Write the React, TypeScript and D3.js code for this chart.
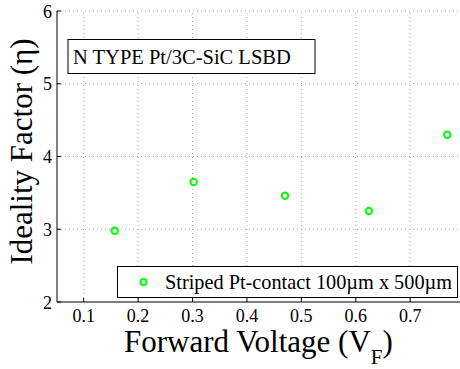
import React from "react";
import * as d3 from "d3";

const voltages = [0.157, 0.302, 0.470, 0.624, 0.768];
const ideality = [2.98, 3.65, 3.46, 3.25, 4.30];
const xTicks = [0.1, 0.2, 0.3, 0.4, 0.5, 0.6, 0.7];
const yTicks = [2, 3, 4, 5, 6];
const titleText = "N TYPE Pt/3C-SiC LSBD";
const legendText = "Striped Pt-contact 100\u00b5m x 500\u00b5m";

const W = 460, H = 369;
const FONT = "Liberation Serif";

export default function App() {
  const x = d3.scaleLinear().domain([0.1, 0.7]).range([83.7, 410.2]);
  const y = d3.scaleLinear().domain([2, 6]).range([302, 11]);
  const x0 = 57, yB = 302, yT = 11;
  const ts = { fontFamily: FONT };
  return (
    <svg width={W} height={H} style={{ position: "absolute", left: 0, top: 0, fontFamily: FONT }}>
      <rect width={W} height={H} fill="#fff" />
      {xTicks.map((t) => (
        <line key={"gx" + t} x1={x(t)} x2={x(t)} y1={yB} y2={yT} stroke="#aaa" strokeWidth={1} strokeDasharray="1,3" />
      ))}
      {yTicks.filter((t) => t > 2).map((t) => (
        <line key={"gy" + t} x1={x0} x2={W} y1={y(t)} y2={y(t)} stroke="#aaa" strokeWidth={1} strokeDasharray="1,3" />
      ))}
      <line x1={x0} x2={x0} y1={yT} y2={yB} stroke="#000" strokeWidth={1} />
      <line x1={x0} x2={W} y1={yB} y2={yB} stroke="#000" strokeWidth={1} />
      {xTicks.map((t) => (
        <g key={"tx" + t}>
          <line x1={x(t)} x2={x(t)} y1={yB} y2={yB - 4} stroke="#000" />
          <text x={x(t)} y={yB + 20} textAnchor="middle" fontSize={18} style={ts}>{String(t)}</text>
        </g>
      ))}
      {yTicks.map((t) => (
        <g key={"ty" + t}>
          <line x1={x0} x2={x0 + 4} y1={y(t)} y2={y(t)} stroke="#000" />
          <text x={x0 - 5} y={y(t) + 6.5} textAnchor="end" fontSize={18} style={ts}>{String(t)}</text>
        </g>
      ))}
      <rect x={68} y={39.5} width={247} height={34} fill="#fff" stroke="#000" strokeWidth={1} />
      <text x={73} y={64} fontSize={20.5} style={ts}>{titleText}</text>
      <rect x={117.5} y={266.5} width={340} height={31} fill="#fff" stroke="#000" strokeWidth={1} />
      <circle cx={143.5} cy={282} r={3} fill="none" stroke="#00ff00" strokeWidth={2} />
      <text x={165} y={289} fontSize={20.3} style={ts}>{legendText}</text>
      {voltages.map((v, i) => (
        <circle key={"p" + i} cx={x(v)} cy={y(ideality[i])} r={3.2} fill="none" stroke="#00ff00" strokeWidth={2} />
      ))}
      <text x={124} y={352} fontSize={31} style={ts}>
        Forward Voltage (V<tspan fontSize={21} dy={12}>F</tspan><tspan dy={-12}>)</tspan>
      </text>
      <text transform={`translate(32,151.5) rotate(-90)`} textAnchor="middle" fontSize={31} style={ts}>Ideality Factor (η)</text>
    </svg>
  );
}
